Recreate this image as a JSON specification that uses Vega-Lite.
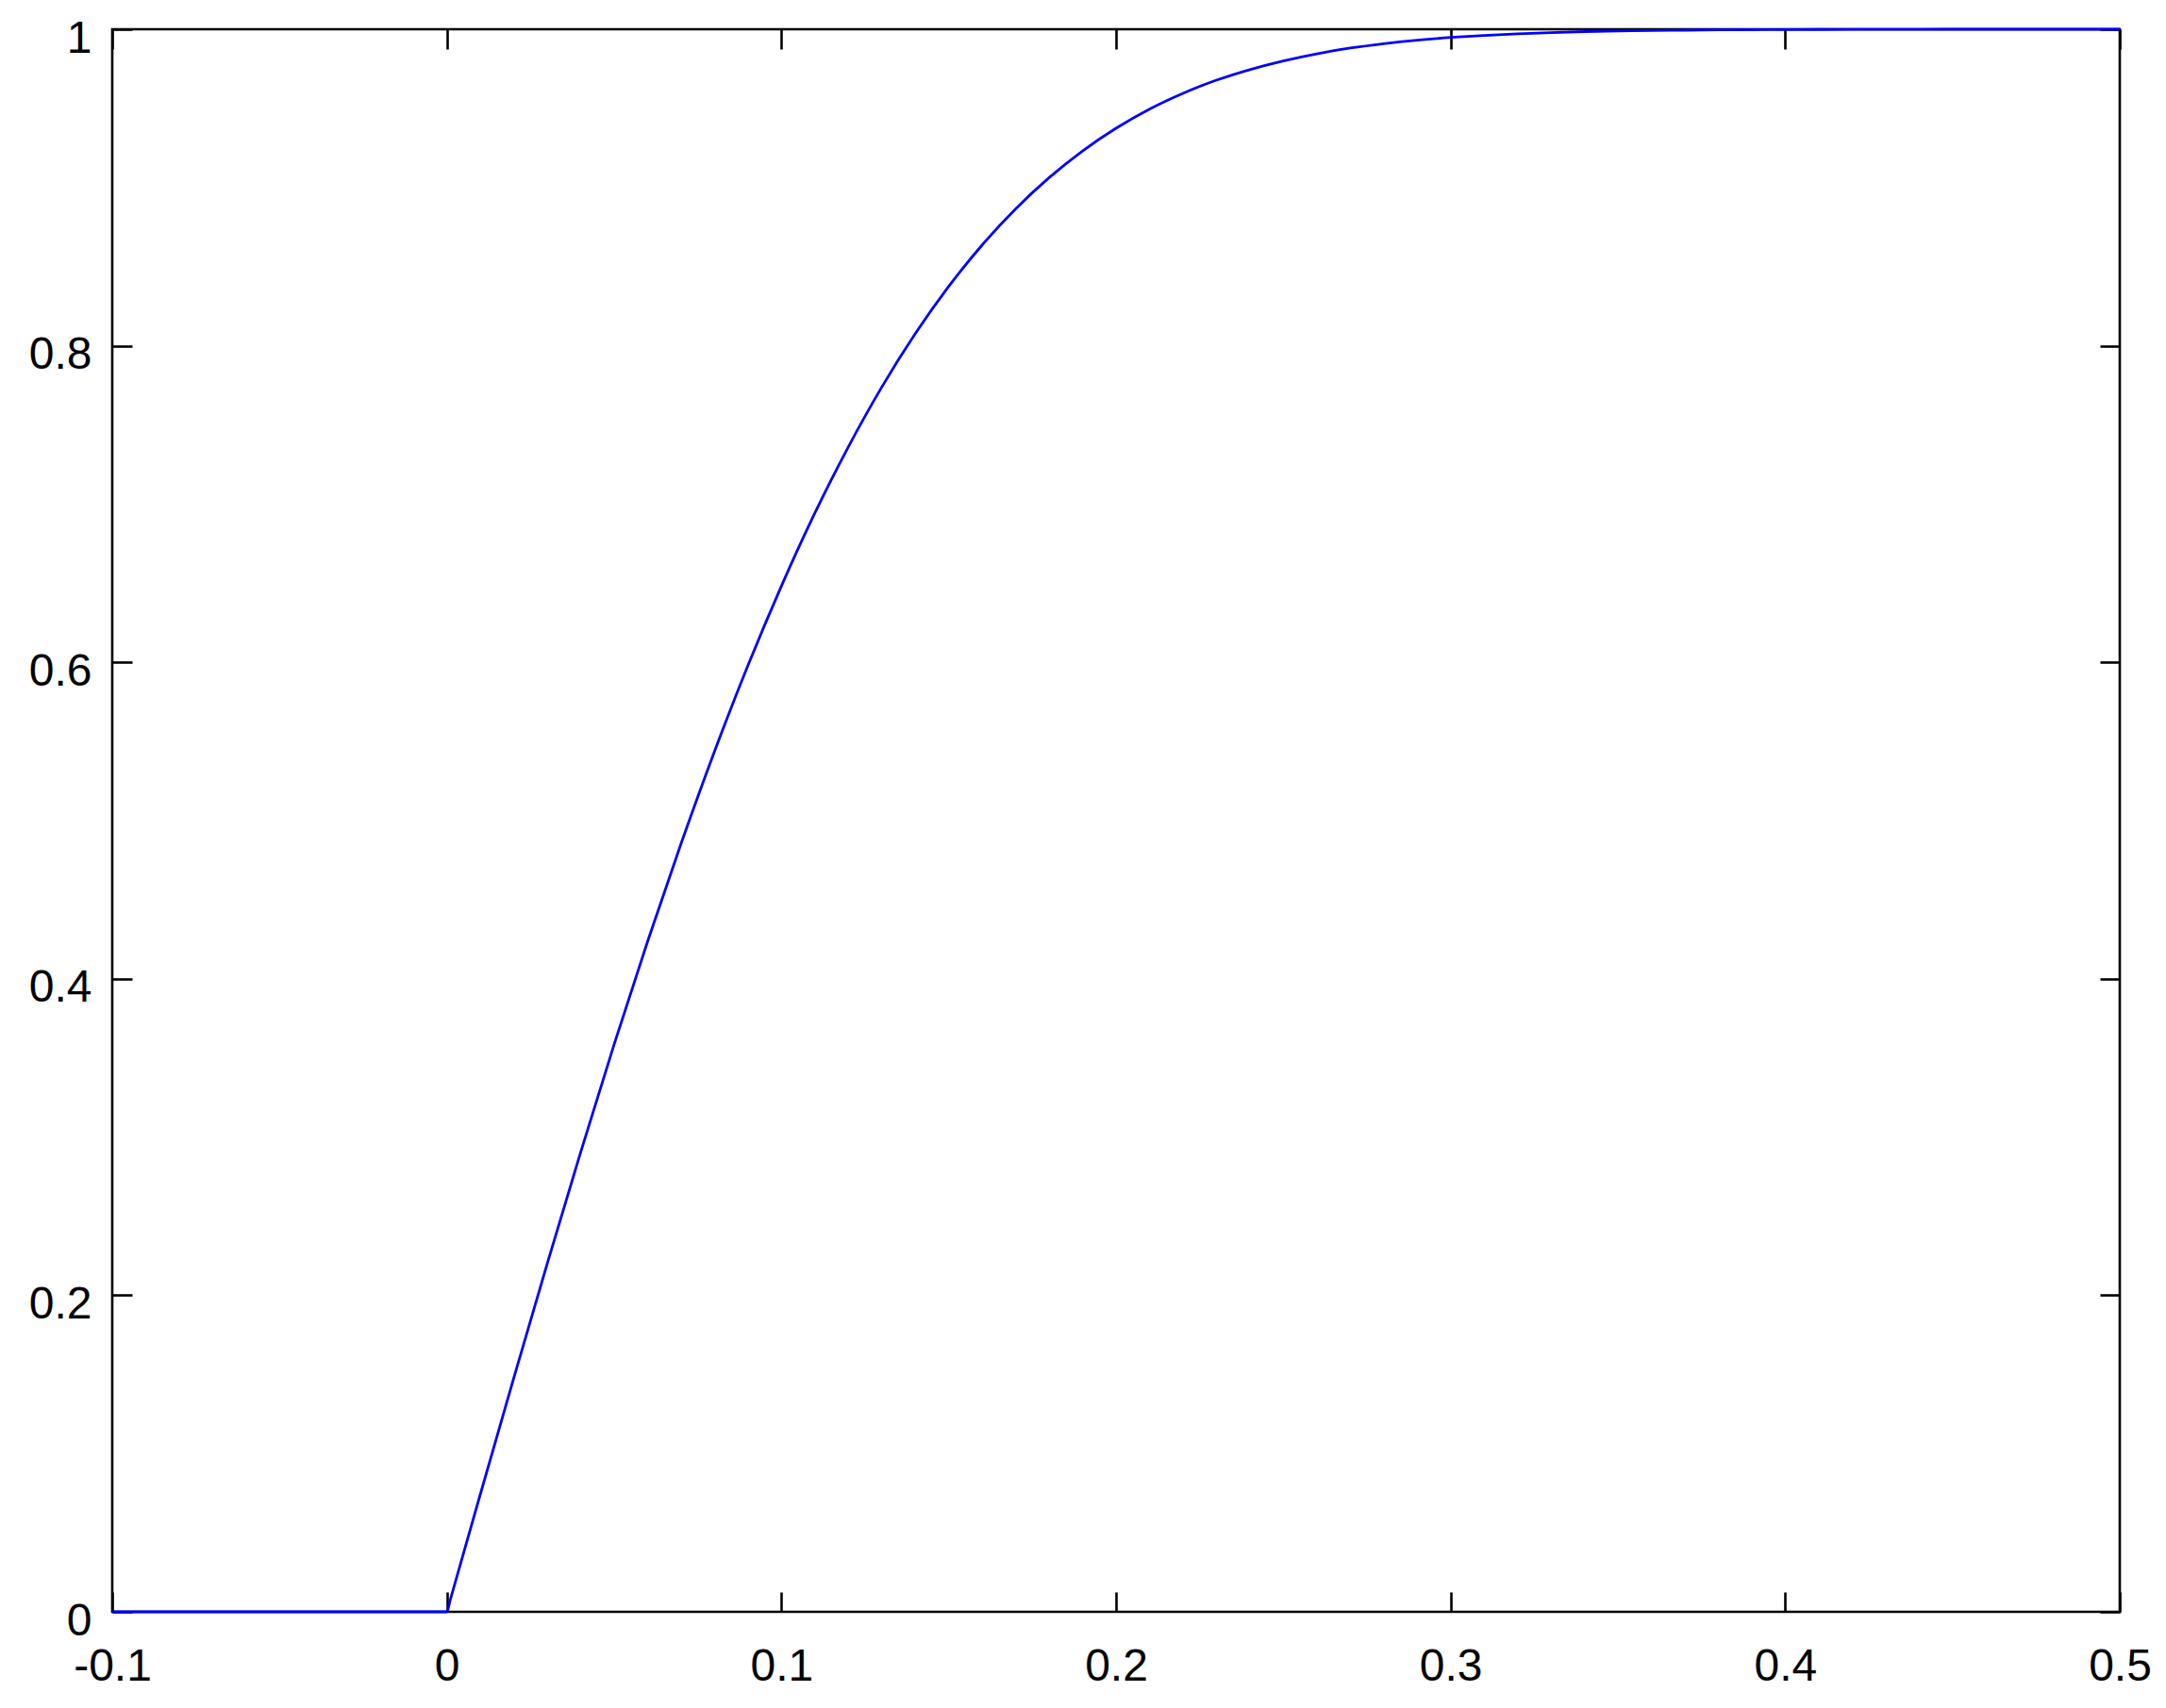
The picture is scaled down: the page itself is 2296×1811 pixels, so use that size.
{
  "$schema": "https://vega.github.io/schema/vega-lite/v6.json",
  "width": 2128,
  "height": 1678,
  "autosize": {"type": "none"},
  "padding": {"left": 119, "top": 31, "right": 49, "bottom": 102},
  "background": "white",
  "config": {
    "view": {"stroke": "black", "strokeWidth": 2.6},
    "axis": {
      "domain": false,
      "grid": false,
      "tickColor": "black",
      "tickWidth": 2.6,
      "tickSize": -21,
      "labelFont": "Liberation Sans",
      "labelFontSize": 48,
      "labelColor": "black",
      "labelFlush": false,
      "labelOverlap": false,
      "labelBound": false,
      "title": null
    }
  },
  "data": {
    "values": [
      {"x": -0.1, "y": 0}, {"x": 0, "y": 0}, {"x": 0.001, "y": 0.0074},
      {"x": 0.01, "y": 0.0742}, {"x": 0.02, "y": 0.1477}, {"x": 0.03, "y": 0.2200},
      {"x": 0.04, "y": 0.2904}, {"x": 0.05, "y": 0.3585}, {"x": 0.06, "y": 0.4236},
      {"x": 0.07, "y": 0.4854}, {"x": 0.08, "y": 0.5437}, {"x": 0.09, "y": 0.5980},
      {"x": 0.10, "y": 0.6482}, {"x": 0.11, "y": 0.6943}, {"x": 0.12, "y": 0.7361},
      {"x": 0.13, "y": 0.7739}, {"x": 0.14, "y": 0.8076}, {"x": 0.15, "y": 0.8375},
      {"x": 0.16, "y": 0.8637}, {"x": 0.17, "y": 0.8865}, {"x": 0.18, "y": 0.9062},
      {"x": 0.19, "y": 0.9231}, {"x": 0.20, "y": 0.9374}, {"x": 0.21, "y": 0.9495},
      {"x": 0.22, "y": 0.9595}, {"x": 0.23, "y": 0.9678}, {"x": 0.24, "y": 0.9745},
      {"x": 0.25, "y": 0.9800}, {"x": 0.26, "y": 0.9845}, {"x": 0.27, "y": 0.9881},
      {"x": 0.28, "y": 0.9909}, {"x": 0.29, "y": 0.9931}, {"x": 0.30, "y": 0.9948},
      {"x": 0.31, "y": 0.9961}, {"x": 0.32, "y": 0.9971}, {"x": 0.33, "y": 0.9979},
      {"x": 0.34, "y": 0.9985}, {"x": 0.35, "y": 0.9989}, {"x": 0.36, "y": 0.9992},
      {"x": 0.37, "y": 0.9994}, {"x": 0.38, "y": 0.9996}, {"x": 0.39, "y": 0.9997},
      {"x": 0.40, "y": 0.9998}, {"x": 0.42, "y": 0.9999}, {"x": 0.45, "y": 1.0},
      {"x": 0.5, "y": 1.0}
    ]
  },
  "layer": [
    {
      "mark": {"type": "line", "color": "#0000FF", "strokeWidth": 2.8, "clip": false, "interpolate": "monotone"},
      "encoding": {
        "x": {
          "field": "x", "type": "quantitative",
          "scale": {"domain": [-0.1, 0.5], "nice": false, "zero": false},
          "axis": {"orient": "bottom", "values": [-0.1, 0, 0.1, 0.2, 0.3, 0.4, 0.5], "labelBaseline": "alphabetic", "labelPadding": 93, "labelAlign": "center", "labelExpr": "datum.value == 0 ? '0' : datum.value < 0 ? '-0.1' : format(datum.value, '.1f')"}
        },
        "y": {
          "field": "y", "type": "quantitative",
          "scale": {"domain": [0, 1], "nice": false, "zero": false},
          "axis": {"orient": "left", "values": [0, 0.2, 0.4, 0.6, 0.8, 1], "labelBaseline": "alphabetic", "labelAlign": "right", "labelPadding": 43, "labelOffset": 24, "labelExpr": "datum.value == 0 ? '0' : datum.value == 1 ? '1' : format(datum.value, '.1f')"}
        }
      }
    },
    {
      "mark": {"type": "line", "strokeOpacity": 0},
      "encoding": {
        "x": {
          "field": "x", "type": "quantitative",
          "axis": {"orient": "top", "values": [-0.1, 0, 0.1, 0.2, 0.3, 0.4, 0.5], "labels": false}
        },
        "y": {
          "field": "y", "type": "quantitative",
          "axis": {"orient": "right", "values": [0, 0.2, 0.4, 0.6, 0.8, 1], "labels": false}
        }
      }
    }
  ],
  "resolve": {"axis": {"x": "independent", "y": "independent"}}
}
